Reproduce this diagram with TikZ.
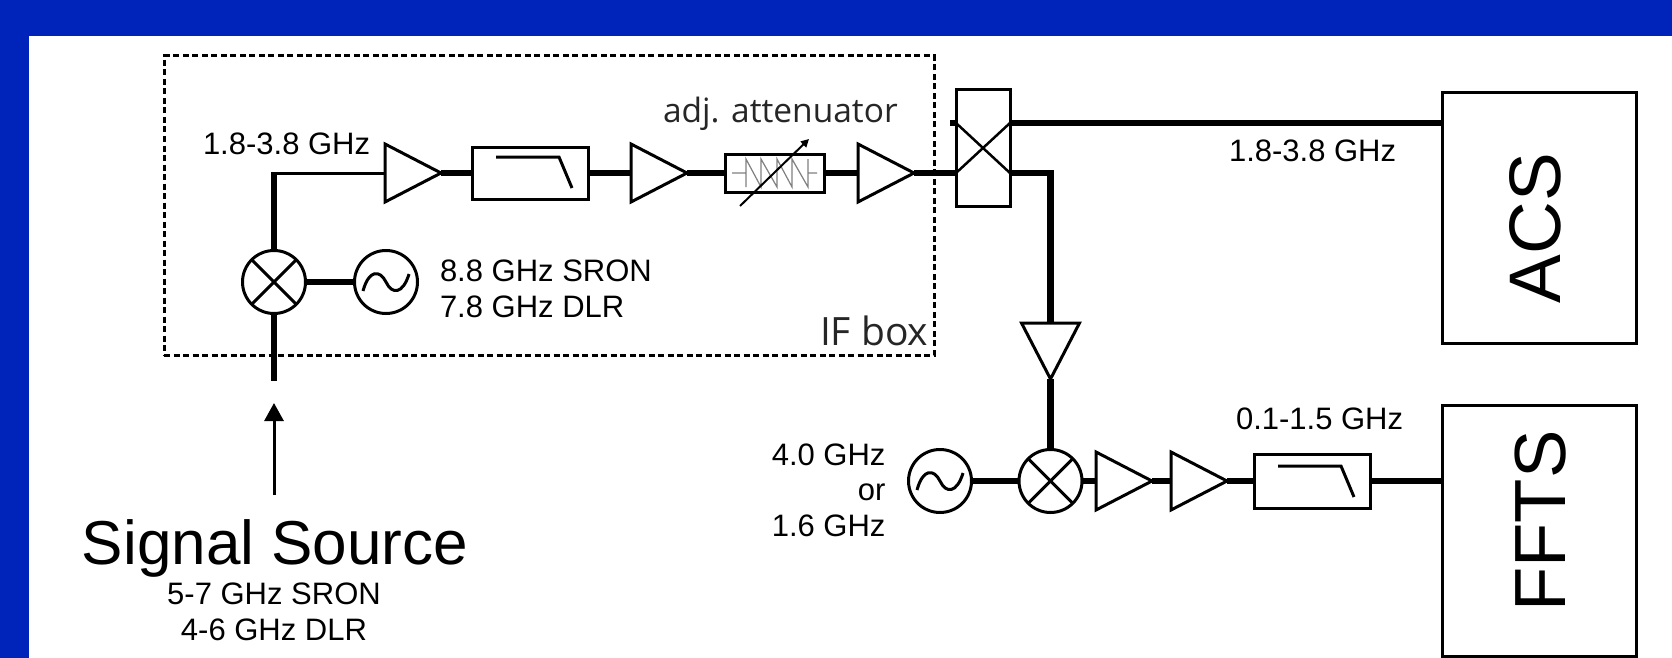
\documentclass[tikz,border=0pt]{standalone}
\usepackage{fontspec}
\setmainfont{Liberation Sans}
\newfontfamily\boxfont{Open Sans}
\usetikzlibrary{shapes.geometric,arrows.meta,calc}
\definecolor{slideblue}{RGB}{0,36,186}
\newcommand{\fs}[1]{\fontsize{#1}{1.13\dimexpr #1pt\relax}\selectfont}
\tikzset{
  x=1pt,y=-1pt,
  wire/.style={line width=6.3pt,line cap=butt},
  thinwire/.style={line width=3pt},
  part/.style={draw=black,line width=3pt,inner sep=0pt,outer sep=0pt,fill=white},
  blockbox/.style={part,rectangle,anchor=north west},
  round/.style={part,circle,minimum size=63pt},
  amp/.style={part,isosceles triangle,isosceles triangle stretches,minimum height=56pt,minimum width=58pt,anchor=lower side},
  ampdown/.style={amp,shape border rotate=-90},
  lbl/.style={inner sep=0pt,outer sep=0pt,font=\fs{31},text=black,anchor=base west},
  slope/.style={line width=3pt,line join=miter},
}
\begin{document}
\begin{tikzpicture}
\useasboundingbox (0,0) rectangle (1672,658);
\fill[slideblue] (0,0) rectangle (1672,658);
\fill[white] (29,36) rectangle (1672,658);

% IF box outline
\node[draw=black,line width=3pt,dash pattern=on 6pt off 3.5pt,rectangle,inner sep=0pt,outer sep=0pt,anchor=north west,minimum width=770pt,minimum height=299pt] (ifbox) at (164,56) {};

% free ends and corners
\coordinate (srcend) at (274,381);
\coordinate (cplA) at (956,173);
\coordinate (cplB) at (1010,123);
\coordinate (cplC) at (956,123);
\coordinate (cplD) at (1010,173);
\coordinate (cplstub) at (950,123);
\coordinate (bend) at (1050.5,173);
\coordinate (acsin) at (1442,123);
\coordinate (arrowtip) at (274,403);
\coordinate (arrowtail) at (274,495);

% upper chain parts
\node[round] (mix1) at (274,282) {};
\node[round] (osc1) at (386,282) {};
\node[amp] (a1) at (385,173) {};
\node[blockbox,minimum width=116pt,minimum height=52pt] (f1) at (472,147) {};
\node[amp] (a2) at (631,173) {};
\node[blockbox,minimum width=99pt,minimum height=38pt] (att) at (725,154) {};
\node[amp] (a3) at (858,173) {};
\node[blockbox,minimum width=54pt,minimum height=116pt] (coup) at (956,90) {};
\node[blockbox,minimum width=194pt,minimum height=250pt] (acs) at (1442,93) {};
\node[blockbox,minimum width=194pt,minimum height=251pt] (ffts) at (1442,405) {};

% lower chain parts
\node[ampdown] (a4) at (1050.5,323) {};
\node[round] (mix2) at (1050.5,481) {};
\node[round] (osc2) at (940,481) {};
\node[amp] (a5) at (1096,481) {};
\node[amp] (a6) at (1171,481) {};
\node[blockbox,minimum width=116pt,minimum height=54pt] (f2) at (1254,454) {};

% connectors
\draw[wire] (mix1.south) -- (srcend);
\draw[wire] (mix1.north) -- (mix1.north |- 0,171.5);
\draw[thinwire] (270.85,173) -- (a1.lower side);
\draw[wire] (mix1.east) -- (osc1.west);
\draw[wire] (a1.apex) -- (f1.west);
\draw[wire] (f1.east) -- (a2.lower side);
\draw[wire] (a2.apex) -- (att.west);
\draw[wire] (att.east) -- (a3.lower side);
\draw[wire] (a3.apex) -- (cplA);
\draw[wire] (cplB) -- (acsin);
\draw[wire,line join=miter] (cplD) -- (bend) -- (a4.lower side);
\draw[wire] (a4.apex) -- (mix2.north);
\draw[wire] (osc2.east) -- (mix2.west);
\draw[wire] (mix2.east) -- (a5.lower side);
\draw[wire] (a5.apex) -- (a6.lower side);
\draw[wire] (a6.apex) -- (f2.west);
\draw[wire] (f2.east) -- (ffts.west |- f2.east);
\draw[wire] (cplstub) -- (cplC);
\draw[line width=3pt,-{Triangle[length=18pt,width=19pt]}] (arrowtail) -- (arrowtip);

% mixer crosses
\foreach \m in {mix1,mix2}{
  \draw[line width=3pt] (\m.45) -- (\m.225);
  \draw[line width=3pt] (\m.135) -- (\m.315);
}
% oscillator waves
\foreach \o in {osc1,osc2}{
  \draw[line width=3pt,shift={(\o)}] (-23,9) .. controls (-17,-13) and (-6,-12) .. (0,0) .. controls (6,13) and (17,12) .. (23,-8);
}
% filter slopes
\draw[slope] (496,157) -- (559,157) -- (572,188);
\draw[slope] (1278,466) -- (1341,466) -- (1354,497);
% coupler cross
\draw[line width=2.5pt] (cplA) -- (cplB);
\draw[line width=2.5pt] (cplC) -- (cplD);
% attenuator symbol
\draw[gray,line width=1.2pt] (732,173) -- (746,173) (746,159) -- (746,187) -- (746,159) -- (761,187) -- (761,159) -- (777,187) -- (777,159) -- (792,187) -- (792,159) -- (808,187) -- (808,159) (808,173) -- (817,173);
\coordinate (attfrom) at (740,206);
\coordinate (attto) at (809,139);
\draw[line width=2pt,-{Triangle[length=8pt,width=8pt]}] (attfrom) -- (attto);

% labels
\node[lbl] (t1) at (203,154) {1.8-3.8 GHz};
\node[lbl,align=left] (t2) at (440,317) {8.8 GHz SRON\\7.8 GHz DLR};
\node[lbl,font=\boxfont\fs{33.5},text=black!85] (t3) at (663,122) {adj. attenuator};
\node[lbl,font=\boxfont\fs{39},text=black!85] (t4) at (820,345) {IF box};
\node[lbl] (t5) at (1229,161) {1.8-3.8 GHz};
\node[lbl] (t6) at (1236,429.5) {0.1-1.5 GHz};
\node[lbl,anchor=base east,align=right] (t7) at (885.5,536) {4.0 GHz\\or\\1.6 GHz};
\node[lbl,anchor=base,font=\fs{62}] (t8) at (275,564) {Signal Source};
\node[lbl,anchor=base,align=center] (t9) at (274,640) {5-7 GHz SRON\\4-6 GHz DLR};
\node[lbl,anchor=base,rotate=90,font=\fs{73}] (t10) at (1560,228) {ACS};
\node[lbl,anchor=base,rotate=90,font=\fs{72.5}] (t11) at (1565,521) {FFTS};
\end{tikzpicture}
\end{document}
